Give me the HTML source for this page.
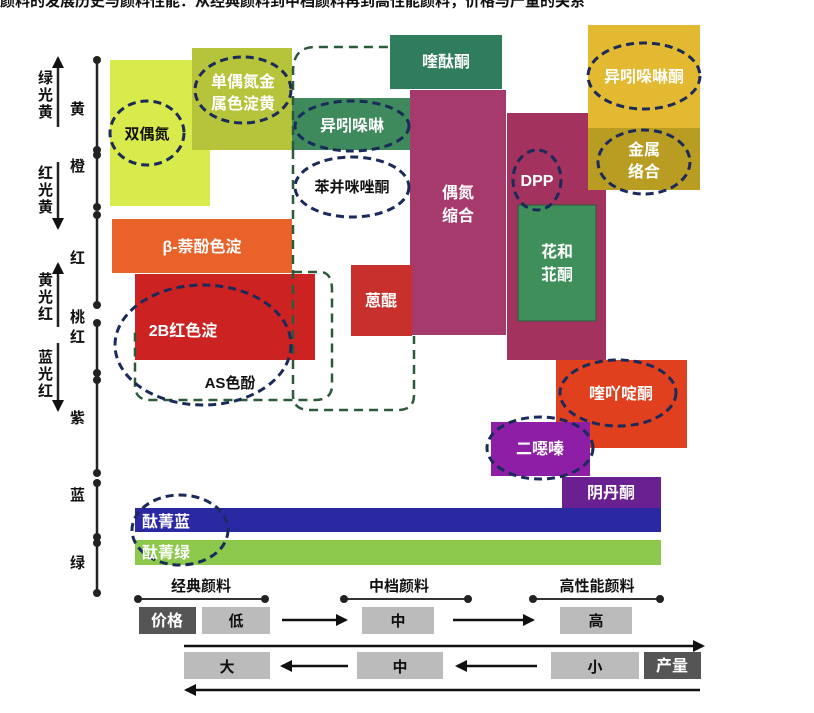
<!DOCTYPE html>
<html><head><meta charset="utf-8"><style>
html,body{margin:0;padding:0;background:#fff;width:814px;height:713px;overflow:hidden}
svg{display:block}
text{font-family:"Liberation Sans","Noto Sans CJK SC",sans-serif;font-weight:bold}
.w{fill:#fff;font-size:16px}
.k{fill:#111;font-size:15px}
.dk{fill:none;stroke:#1a2a5a;stroke-width:3;stroke-dasharray:8 5}
.dg{fill:none;stroke:#2a5a3a;stroke-width:2.5;stroke-dasharray:9 6}
</style></head><body>
<svg width="814" height="713" viewBox="0 0 814 713">
<defs><marker id="a" markerUnits="userSpaceOnUse" markerWidth="12" markerHeight="12" refX="10" refY="6" orient="auto"><path d="M0,0 L12,6 L0,12 z" fill="#111"/></marker></defs>
<text x="0" y="6" class="k" font-size="16">颜料的发展历史与颜料性能：从经典颜料到中档颜料再到高性能颜料，价格与产量的关系</text>
<!-- axis -->
<g stroke="#222" stroke-width="2.5">
<line x1="97" y1="60" x2="97" y2="150"/><line x1="97" y1="155" x2="97" y2="207"/>
<line x1="97" y1="215" x2="97" y2="305"/><line x1="97" y1="323" x2="97" y2="373"/>
<line x1="97" y1="380" x2="97" y2="473"/><line x1="97" y1="483" x2="97" y2="537"/>
<line x1="97" y1="543" x2="97" y2="593"/>
<line x1="58" y1="127" x2="58" y2="58" marker-end="url(#a)"/>
<line x1="58" y1="162" x2="58" y2="228" marker-end="url(#a)"/>
<line x1="58" y1="327" x2="58" y2="264" marker-end="url(#a)"/>
<line x1="58" y1="343" x2="58" y2="410" marker-end="url(#a)"/>
</g>
<g fill="#222">
<circle cx="97" cy="60" r="4"/><circle cx="97" cy="150" r="4"/><circle cx="97" cy="155" r="4"/><circle cx="97" cy="207" r="4"/>
<circle cx="97" cy="215" r="4"/><circle cx="97" cy="305" r="4"/><circle cx="97" cy="323" r="4"/><circle cx="97" cy="373" r="4"/>
<circle cx="97" cy="380" r="4"/><circle cx="97" cy="473" r="4"/><circle cx="97" cy="483" r="4"/><circle cx="97" cy="537" r="4"/>
<circle cx="97" cy="543" r="4"/><circle cx="97" cy="593" r="4"/>
</g>
<g class="k" font-size="14">
<text x="38" y="83">绿</text><text x="38" y="100">光</text><text x="38" y="117">黄</text>
<text x="38" y="178">红</text><text x="38" y="195">光</text><text x="38" y="212">黄</text>
<text x="38" y="285">黄</text><text x="38" y="302">光</text><text x="38" y="319">红</text>
<text x="38" y="362">蓝</text><text x="38" y="379">光</text><text x="38" y="396">红</text>
</g>
<g class="k" font-size="16">
<text x="70" y="114">黄</text><text x="70" y="171">橙</text><text x="70" y="263">红</text>
<text x="70" y="322">桃</text><text x="70" y="342">红</text><text x="70" y="423">紫</text>
<text x="70" y="500">蓝</text><text x="70" y="568">绿</text>
</g>
<!-- boxes -->
<rect x="110" y="60" width="100" height="146" fill="#d9ea4c"/>
<rect x="192" y="48" width="100" height="102" fill="#b5c43a"/>
<rect x="292" y="98" width="118" height="52" fill="#3e8a5c"/>
<rect x="390" y="35" width="112" height="54" fill="#2f7d5c"/>
<rect x="410" y="90" width="96" height="245" fill="#a63a6c"/>
<rect x="507" y="113" width="99" height="247" fill="#a3325f"/>
<rect x="518" y="205" width="78" height="116" fill="#3f8f5a" stroke="#2a5a3a"/>
<rect x="588" y="25" width="112" height="103" fill="#e2b930"/>
<rect x="588" y="128" width="112" height="62" fill="#b99c22"/>
<rect x="112" y="219" width="180" height="54" fill="#e8622a"/>
<rect x="135" y="274" width="180" height="86" fill="#cc2222"/>
<rect x="351" y="265" width="61" height="71" fill="#c8302e"/>
<rect x="556" y="360" width="131" height="88" fill="#e0401e"/>
<rect x="491" y="422" width="99" height="54" fill="#8e1ea6"/>
<rect x="562" y="477" width="99" height="31" fill="#6a2090"/>
<rect x="135" y="508" width="526" height="24" fill="#2a28a2"/>
<rect x="135" y="540" width="526" height="25" fill="#8bc84c"/>
<!-- dashed rects -->
<path class="dg" d="M293,272 L320,272 Q332,272 332,290 L332,385 Q332,400 315,400 L150,400 Q135,400 135,385 L135,330"/>
<path class="dg" d="M293,150 L293,72 Q293,47 315,47 L392,47"/>
<path class="dg" d="M293,150 L293,395 Q293,410 310,410 L398,410 Q414,410 414,395 L414,336"/>
<!-- ellipses -->
<ellipse class="dk" cx="147" cy="133" rx="37" ry="32"/>
<ellipse class="dk" cx="243" cy="90" rx="48" ry="33"/>
<ellipse class="dk" cx="352" cy="126" rx="57" ry="25"/>
<ellipse class="dk" cx="352" cy="187" rx="57" ry="30"/>
<ellipse class="dk" cx="203" cy="345" rx="88" ry="60"/>
<ellipse class="dk" cx="537" cy="180" rx="24" ry="30"/>
<ellipse class="dk" cx="644" cy="76" rx="56" ry="33"/>
<ellipse class="dk" cx="644" cy="162" rx="46" ry="32"/>
<ellipse class="dk" cx="618" cy="393" rx="58" ry="33"/>
<ellipse class="dk" cx="540" cy="448" rx="53" ry="31"/>
<ellipse class="dk" cx="180" cy="530" rx="48" ry="35"/>
<!-- labels -->
<text class="k" x="147" y="139" text-anchor="middle" font-size="17">双偶氮</text>
<text class="w" x="243" y="87" text-anchor="middle">单偶氮金</text>
<text class="w" x="243" y="109" text-anchor="middle">属色淀黄</text>
<text class="w" x="352" y="131" text-anchor="middle">异吲哚啉</text>
<text class="k" x="352" y="192" text-anchor="middle">苯并咪唑酮</text>
<text class="w" x="446" y="67" text-anchor="middle">喹酞酮</text>
<text class="w" x="458" y="198" text-anchor="middle" font-size="17">偶氮</text>
<text class="w" x="458" y="221" text-anchor="middle" font-size="17">缩合</text>
<text class="w" x="537" y="186" text-anchor="middle">DPP</text>
<text class="w" x="557" y="257" text-anchor="middle">花和</text>
<text class="w" x="557" y="280" text-anchor="middle">苝酮</text>
<text class="w" x="644" y="82" text-anchor="middle">异吲哚啉酮</text>
<text class="w" x="644" y="155" text-anchor="middle">金属</text>
<text class="w" x="644" y="177" text-anchor="middle">络合</text>
<text class="w" x="202" y="252" text-anchor="middle">β-萘酚色淀</text>
<text class="w" x="183" y="336" text-anchor="middle">2B红色淀</text>
<text class="k" x="230" y="388" text-anchor="middle" font-size="17">AS色酚</text>
<text class="w" x="381" y="306" text-anchor="middle">蒽醌</text>
<text class="w" x="621" y="399" text-anchor="middle">喹吖啶酮</text>
<text class="w" x="540" y="454" text-anchor="middle">二噁嗪</text>
<text class="w" x="611" y="498" text-anchor="middle" font-size="14">阴丹酮</text>
<text class="w" x="142" y="527">酞菁蓝</text>
<text class="w" x="142" y="558">酞菁绿</text>
<!-- bottom -->
<g stroke="#333" stroke-width="2">
<line x1="138" y1="599" x2="265" y2="599"/><line x1="344" y1="599" x2="468" y2="599"/><line x1="533" y1="599" x2="660" y2="599"/>
</g>
<g fill="#222"><circle cx="138" cy="599" r="4"/><circle cx="265" cy="599" r="4"/><circle cx="344" cy="599" r="4"/><circle cx="468" cy="599" r="4"/><circle cx="533" cy="599" r="4"/><circle cx="660" cy="599" r="4"/></g>
<text class="k" x="201" y="591" text-anchor="middle">经典颜料</text>
<text class="k" x="399" y="591" text-anchor="middle">中档颜料</text>
<text class="k" x="597" y="591" text-anchor="middle">高性能颜料</text>
<rect x="139" y="607" width="57" height="27" fill="#555"/><text class="w" x="167" y="626" text-anchor="middle" font-size="15">价格</text>
<rect x="202" y="607" width="68" height="27" fill="#bbb"/><text class="k" x="236" y="626" text-anchor="middle">低</text>
<rect x="362" y="607" width="72" height="27" fill="#bbb"/><text class="k" x="398" y="626" text-anchor="middle">中</text>
<rect x="560" y="607" width="72" height="27" fill="#bbb"/><text class="k" x="596" y="626" text-anchor="middle">高</text>
<g stroke="#111" stroke-width="2.5">
<line x1="282" y1="620" x2="346" y2="620" marker-end="url(#a)"/>
<line x1="453" y1="620" x2="533" y2="620" marker-end="url(#a)"/>
<line x1="184" y1="646" x2="703" y2="646" marker-end="url(#a)"/>
<line x1="348" y1="666" x2="282" y2="666" marker-end="url(#a)"/>
<line x1="537" y1="666" x2="457" y2="666" marker-end="url(#a)"/>
<line x1="700" y1="690" x2="186" y2="690" marker-end="url(#a)"/>
</g>
<rect x="184" y="652" width="86" height="27" fill="#bbb"/><text class="k" x="227" y="672" text-anchor="middle">大</text>
<rect x="357" y="652" width="86" height="27" fill="#bbb"/><text class="k" x="400" y="672" text-anchor="middle">中</text>
<rect x="551" y="652" width="88" height="27" fill="#bbb"/><text class="k" x="595" y="672" text-anchor="middle">小</text>
<rect x="644" y="652" width="57" height="27" fill="#555"/><text class="w" x="672" y="671" text-anchor="middle" font-size="15">产量</text>
</svg>
</body></html>
